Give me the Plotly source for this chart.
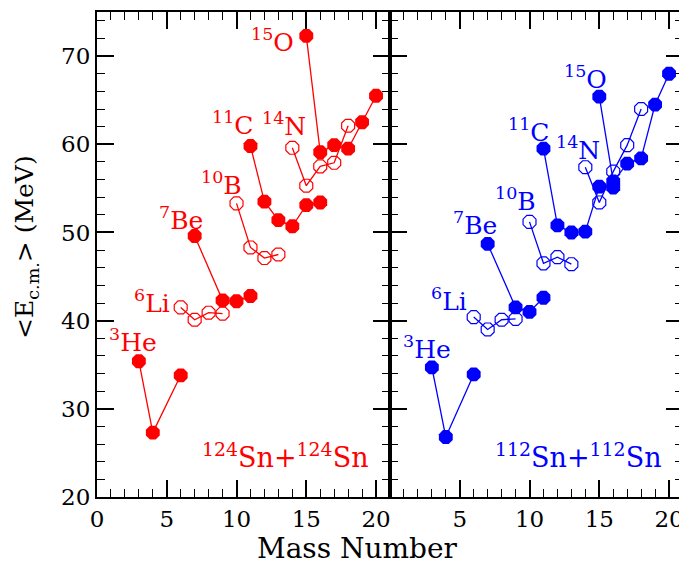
import plotly.graph_objects as go

# ---- data: 124Sn+124Sn (red, left panel) ----
red_He_A = [3, 4, 6];            red_He_E = [35.4, 27.3, 33.8]
red_Li_A = [6, 7, 8, 9];         red_Li_E = [41.5, 40.1, 40.9, 40.8]
red_Be_A = [7, 9, 10, 11];       red_Be_E = [49.6, 42.3, 42.2, 42.8]
red_B_A = [10, 11, 12, 13];      red_B_E = [53.3, 48.3, 47.1, 47.5]
red_C_A = [11, 12, 13, 14, 15, 16]; red_C_E = [59.8, 53.5, 51.4, 50.7, 53.1, 53.4]
red_N_A = [14, 15, 16, 17, 18];  red_N_E = [59.6, 55.3, 57.5, 57.9, 62.1]
red_O_A = [15, 16, 17, 18, 19, 20]; red_O_E = [72.3, 59.1, 59.9, 59.5, 62.5, 65.5]

# ---- data: 112Sn+112Sn (blue, right panel) ----
blue_He_A = [3, 4, 6];           blue_He_E = [34.7, 26.8, 33.9]
blue_Li_A = [6, 7, 8, 9];        blue_Li_E = [40.4, 39.0, 40.1, 40.2]
blue_Be_A = [7, 9, 10, 11];      blue_Be_E = [48.7, 41.5, 41.0, 42.6]
blue_B_A = [10, 11, 12, 13];     blue_B_E = [51.2, 46.5, 47.2, 46.4]
blue_C_A = [11, 12, 13, 14, 15, 16]; blue_C_E = [59.5, 50.8, 50.0, 50.1, 55.2, 55.1]
blue_N_A = [14, 15, 16, 17, 18]; blue_N_E = [57.4, 53.4, 56.9, 59.9, 64.0]
blue_O_A = [15, 16, 17, 18, 19, 20]; blue_O_E = [65.4, 55.8, 57.8, 58.4, 64.5, 68.0]

# labels
elem_labels = ["<sup>3</sup>He", "<sup>6</sup>Li", "<sup>7</sup>Be", "<sup>10</sup>B",
               "<sup>11</sup>C", "<sup>14</sup>N", "<sup>15</sup>O"]
red_lab_x = [2.57, 3.95, 6.0, 8.9, 9.7, 13.4, 12.6]
red_lab_y = [37.8, 42.2, 51.6, 55.6, 62.3, 62.2, 71.8]
blue_lab_x = [2.65, 4.2, 6.07, 9.0, 9.9, 13.46, 14.0]
blue_lab_y = [37.0, 42.4, 51.0, 53.7, 61.6, 59.5, 67.6]
red_system = "<sup>124</sup>Sn+<sup>124</sup>Sn"
blue_system = "<sup>112</sup>Sn+<sup>112</sup>Sn"

RED = "#ff0000"
BLUE = "#0000ff"
FONT = "DejaVu Serif"

fig = go.Figure()

def add_chain(A, E, color, filled, xa, ya):
    if filled:
        marker = dict(symbol="octagon", size=15, color=color, line=dict(width=0))
    else:
        marker = dict(symbol="octagon-open", size=14, color=color, line=dict(width=1.2, color=color))
    fig.add_trace(go.Scatter(x=A, y=E, mode="lines+markers", xaxis=xa, yaxis=ya,
                             line=dict(color=color, width=1.3), marker=marker,
                             showlegend=False, hoverinfo="skip"))

red_sets = [(red_He_A, red_He_E, True), (red_Li_A, red_Li_E, False), (red_Be_A, red_Be_E, True),
            (red_B_A, red_B_E, False), (red_C_A, red_C_E, True), (red_N_A, red_N_E, False),
            (red_O_A, red_O_E, True)]
blue_sets = [(blue_He_A, blue_He_E, True), (blue_Li_A, blue_Li_E, False), (blue_Be_A, blue_Be_E, True),
             (blue_B_A, blue_B_E, False), (blue_C_A, blue_C_E, True), (blue_N_A, blue_N_E, False),
             (blue_O_A, blue_O_E, True)]
for A, E, f in red_sets:
    add_chain(A, E, RED, f, "x", "y")
for A, E, f in blue_sets:
    add_chain(A, E, BLUE, f, "x2", "y2")

ann = []
for t, x, y in zip(elem_labels, red_lab_x, red_lab_y):
    ann.append(dict(text=t, x=x, y=y, xref="x", yref="y", showarrow=False,
                    font=dict(family=FONT, size=25, color=RED)))
for t, x, y in zip(elem_labels, blue_lab_x, blue_lab_y):
    ann.append(dict(text=t, x=x, y=y, xref="x2", yref="y2", showarrow=False,
                    font=dict(family=FONT, size=25, color=BLUE)))
ann.append(dict(text=red_system, x=13.5, y=24.7, xref="x", yref="y", showarrow=False,
                font=dict(family=FONT, size=27, color=RED)))
ann.append(dict(text=blue_system, x=13.5, y=24.7, xref="x2", yref="y2", showarrow=False,
                font=dict(family=FONT, size=27, color=BLUE)))
ann.append(dict(text="Mass Number", x=0.445, y=-0.107, xref="paper", yref="paper",
                showarrow=False, xanchor="center", yanchor="middle",
                font=dict(family=FONT, size=28, color="black")))
ann.append(dict(text="&lt;E<sub>c.m.</sub>&gt; (MeV)", x=-0.12, y=0.515, xref="paper", yref="paper",
                showarrow=False, textangle=-90, xanchor="center", yanchor="middle",
                font=dict(family=FONT, size=25, color="black")))

axis_common = dict(showgrid=False, zeroline=False, showline=True, linecolor="black", linewidth=2,
                   mirror="allticks", ticks="inside", ticklen=17, tickwidth=1.5, tickcolor="black",
                   tickfont=dict(family=FONT, size=23, color="black"))
xminor = dict(dtick=1, ticklen=8, tickwidth=1.2, tickcolor="black", ticks="inside")
yminor = dict(dtick=2, ticklen=8, tickwidth=1.2, tickcolor="black", ticks="inside")

# page body has an 8px default margin, so the figure is 8px smaller and margins shifted
fig.update_layout(
    width=679, height=556,
    margin=dict(l=89, r=4, t=2, b=67),
    paper_bgcolor="white", plot_bgcolor="white",
    annotations=ann,
    xaxis=dict(domain=[0, 0.5], range=[0, 21], tickvals=[0, 5, 10, 15, 20], minor=xminor, **axis_common),
    xaxis2=dict(domain=[0.5, 1], range=[0, 21], tickvals=[5, 10, 15, 20], minor=xminor, anchor="y2", **axis_common),
    yaxis=dict(range=[20, 75], tickvals=[20, 30, 40, 50, 60, 70], minor=yminor, anchor="x", **axis_common),
    yaxis2=dict(range=[20, 75], tickvals=[20, 30, 40, 50, 60, 70], minor=yminor, anchor="x2",
                showticklabels=False, **axis_common),
)

fig.write_html("out.html")
